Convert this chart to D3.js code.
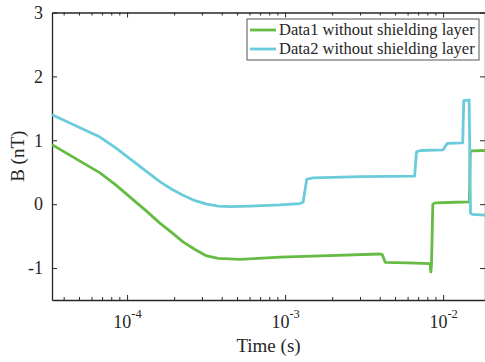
<!DOCTYPE html>
<html>
<head>
<meta charset="utf-8">
<script src="https://cdn.jsdelivr.net/npm/d3@7"></script>
<style>
  body { margin: 0; background: #fff; }
  svg { display: block; }
  svg text { font-family: "Liberation Serif", "Times New Roman", serif; }
</style>
</head>
<body>
<div id="chart"></div>
<script>
// time (s) samples and values for each series
const data1Time = [3.35e-5, 6.74e-5, 8.4e-5, 1.045e-4, 1.3e-4, 1.62e-4, 1.93e-4, 2.26e-4, 2.69e-4, 3.19e-4, 3.77e-4,
  5.2e-4, 9.3e-4, 1.67e-3, 4.0e-3, 4.12e-3, 4.3e-3, 6e-3, 8.25e-3, 8.36e-3, 8.44e-3, 8.6e-3, 8.9e-3, 1.2e-2,
  1.465e-2, 1.485e-2, 1.52e-2, 1.84e-2];
const data1Values = [0.93, 0.49, 0.31, 0.11, -0.09, -0.30, -0.45, -0.59, -0.71, -0.81, -0.85,
  -0.865, -0.83, -0.81, -0.78, -0.79, -0.91, -0.92, -0.93, -1.06, -0.95, 0.0, 0.02, 0.03,
  0.035, 0.82, 0.835, 0.84];

const data2Time = [3.35e-5, 6.74e-5, 8.4e-5, 1.045e-4, 1.3e-4, 1.62e-4, 1.93e-4, 2.26e-4, 2.69e-4, 3.19e-4, 3.77e-4,
  4.49e-4, 6e-4, 9.3e-4, 1.24e-3, 1.3e-3, 1.37e-3, 1.5e-3, 3e-3, 6.6e-3, 6.78e-3, 7.2e-3, 1.0e-2, 1.06e-2,
  1.33e-2, 1.35e-2, 1.46e-2, 1.49e-2, 1.53e-2, 1.84e-2];
const data2Values = [1.40, 1.05, 0.89, 0.71, 0.53, 0.35, 0.23, 0.14, 0.055, 0.0, -0.03,
  -0.04, -0.03, -0.01, 0.01, 0.03, 0.39, 0.41, 0.43, 0.44, 0.82, 0.84, 0.85, 0.95,
  0.96, 1.62, 1.63, -0.14, -0.16, -0.17];

const seriesNames = ["Data1 without shielding layer", "Data2 without shielding layer"];
const seriesColors = ["#66bb44", "#6accdb"];
const xTickExponents = [-4, -3, -2];
const yTickValues = [-1, 0, 1, 2, 3];

const width = 485;
const height = 362;
const margin = { top: 12.5, right: 0, bottom: 62, left: 52 };
const axisColor = "#262626";

const x = d3.scaleLog()
  .domain([3.35e-5, 1.84e-2])
  .range([margin.left, width - margin.right]);
const y = d3.scaleLinear()
  .domain([-1.5, 3])
  .range([height - margin.bottom, margin.top]);

const svg = d3.select("#chart").append("svg")
  .attr("width", width)
  .attr("height", height);

const majorX = xTickExponents.map((e) => Math.pow(10, e));
const minorX = x.ticks().filter((t) => {
  const l = Math.log10(t);
  return Math.abs(l - Math.round(l)) > 1e-6;
});

const styleAxis = (g) => {
  g.attr("font-family", null);
  g.select(".domain").attr("stroke", axisColor).attr("stroke-width", 1.3);
  g.selectAll(".tick line").attr("stroke", axisColor).attr("stroke-width", 1);
  g.selectAll(".tick text").attr("fill", axisColor);
};

// bottom axis
const bottomAxis = svg.append("g")
  .attr("transform", `translate(0,${y.range()[0]})`)
  .call(d3.axisBottom(x).tickValues(majorX).tickSizeInner(-5).tickSizeOuter(0).tickPadding(15)
    .tickFormat(() => ""))
  .call(styleAxis);

bottomAxis.selectAll(".tick text")
  .attr("font-size", 18)
  .attr("dy", "0.71em")
  .each(function (d) {
    const t = d3.select(this);
    t.append("tspan").text("10");
    t.append("tspan").attr("font-size", 12.5).attr("dy", "-0.75em")
      .text("-" + Math.abs(Math.round(Math.log10(d))));
  });

bottomAxis.append("g").selectAll("line")
  .data(minorX)
  .join("line")
  .attr("x1", (d) => x(d)).attr("x2", (d) => x(d))
  .attr("y1", 0).attr("y2", -3)
  .attr("stroke", axisColor);

// top axis
const topAxis = svg.append("g")
  .attr("transform", `translate(0,${y.range()[1]})`)
  .call(d3.axisTop(x).tickValues(majorX).tickSizeInner(-5).tickSizeOuter(0).tickFormat(() => ""))
  .call(styleAxis);

topAxis.append("g").selectAll("line")
  .data(minorX)
  .join("line")
  .attr("x1", (d) => x(d)).attr("x2", (d) => x(d))
  .attr("y1", 0).attr("y2", 3)
  .attr("stroke", axisColor);

// left and right axes
svg.append("g")
  .attr("transform", `translate(${x.range()[0]},0)`)
  .call(d3.axisLeft(y).tickValues(yTickValues).tickSizeInner(-5).tickSizeOuter(0).tickPadding(9)
    .tickFormat((d) => String(d)))
  .call(styleAxis)
  .selectAll(".tick text")
  .attr("font-size", 18);

svg.append("g")
  .attr("transform", `translate(${x.range()[1]},0)`)
  .call(d3.axisRight(y).tickValues(yTickValues).tickSizeInner(-5).tickSizeOuter(0).tickFormat(() => ""))
  .call(styleAxis);

// axis labels
svg.append("text")
  .attr("x", (x.range()[0] + x.range()[1]) / 2)
  .attr("y", 352)
  .attr("text-anchor", "middle")
  .attr("font-size", 19)
  .attr("fill", axisColor)
  .text("Time (s)");

svg.append("text")
  .attr("transform", `translate(24,${(y.range()[0] + y.range()[1]) / 2}) rotate(-90)`)
  .attr("text-anchor", "middle")
  .attr("font-size", 19)
  .attr("fill", axisColor)
  .text("B (nT)");

// lines
const plotArea = svg.append("g");
plotArea.append("clipPath").attr("id", "clip")
  .append("rect")
  .attr("x", x.range()[0]).attr("y", y.range()[1])
  .attr("width", x.range()[1] - x.range()[0])
  .attr("height", y.range()[0] - y.range()[1]);

const line = d3.line()
  .x((d) => x(d[0]))
  .y((d) => y(d[1]));

const series = [
  d3.zip(data1Time, data1Values),
  d3.zip(data2Time, data2Values),
];

plotArea.selectAll("path.series")
  .data(series)
  .join("path")
  .attr("class", "series")
  .attr("clip-path", "url(#clip)")
  .attr("fill", "none")
  .attr("stroke", (_d, i) => seriesColors[i])
  .attr("stroke-width", 2.8)
  .attr("stroke-linejoin", "round")
  .attr("d", line);

// legend
const legend = svg.append("g").attr("transform", "translate(247,19)");
legend.append("rect")
  .attr("width", 232).attr("height", 41)
  .attr("fill", "#fff")
  .attr("stroke", "#555")
  .attr("stroke-width", 1);

const rows = legend.selectAll("g.row")
  .data(seriesNames)
  .join("g")
  .attr("class", "row")
  .attr("transform", (_d, i) => `translate(0,${11 + i * 19})`);

rows.append("line")
  .attr("x1", 3).attr("x2", 29)
  .attr("stroke", (_d, i) => seriesColors[i])
  .attr("stroke-width", 2.8);

rows.append("text")
  .attr("x", 32)
  .attr("dy", "0.33em")
  .attr("font-size", 16.5)
  .attr("fill", axisColor)
  .text((d) => d);
</script>
</body>
</html>
